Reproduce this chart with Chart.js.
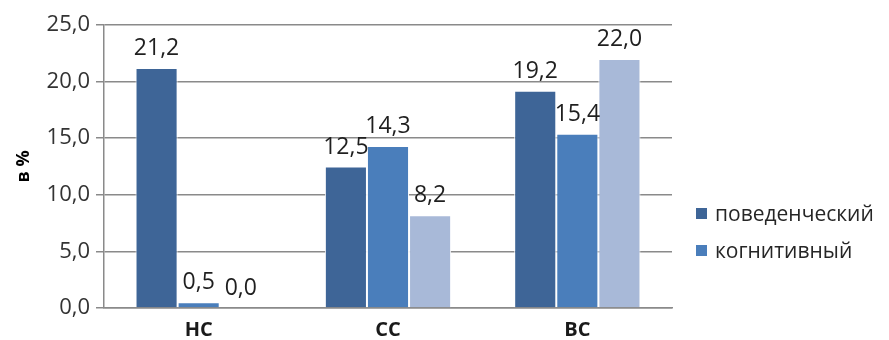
<!DOCTYPE html>
<html>
<head>
<meta charset="utf-8">
<script src="https://cdn.jsdelivr.net/npm/chart.js@4/dist/chart.umd.min.js"></script>
<style>
  html, body { margin: 0; padding: 0; background: #fff; }
  #wrap { position: relative; width: 889px; height: 340px; }
  #legend { position: absolute; left: 696px; top: 198px; font-family: "Open Sans", sans-serif; font-size: 21px; color: #262626; }
  #legend div { height: 37px; line-height: 30px; white-space: nowrap; }
  #legend span.box { display: inline-block; width: 11px; height: 11px; margin-right: 8px; vertical-align: 2px; }
</style>
</head>
<body>
<div id="wrap">
  <canvas id="chart" width="889" height="340"></canvas>
  <div id="legend"></div>
</div>
<script>
const categories = ["НС", "СС", "ВС"];
const seriesNames = ["поведенческий", "когнитивный", ""];
const behavioral = [21.2, 12.5, 19.2];
const cognitive = [0.5, 14.3, 15.4];
const third = [0.0, 8.2, 22.0];
const colors = ["#3E6597", "#4A7EBB", "#A8B9D8"];
const fmt = v => v.toFixed(1).replace(".", ",");

const valueLabels = {
    id: "valueLabels",
    afterDatasetsDraw(chart) {
        const ctx = chart.ctx;
        ctx.save();
        ctx.font = "23px 'Open Sans', sans-serif";
        ctx.fillStyle = "#1f1f1f";
        ctx.textAlign = "center";
        ctx.textBaseline = "bottom";
        chart.data.datasets.forEach((ds, i) => {
            chart.getDatasetMeta(i).data.forEach((bar, j) => {
                ctx.fillText(fmt(ds.data[j]), bar.x, bar.y - 8);
            });
        });
        ctx.restore();
    }
};

const chart = new Chart(document.getElementById("chart"), {
    type: "bar",
    data: {
        labels: categories,
        datasets: [behavioral, cognitive, third].map((d, i) => ({
            label: seriesNames[i],
            data: d,
            backgroundColor: colors[i],
            borderColor: "#ffffff",
            borderWidth: 1,
            categoryPercentage: 0.667,
            barPercentage: 1
        }))
    },
    options: {
        responsive: false,
        animation: false,
        layout: { padding: { left: 13, right: 217, top: 25, bottom: 0 } },
        plugins: { legend: { display: false }, tooltip: { enabled: false } },
        scales: {
            x: {
                grid: { display: false },
                border: { display: true, color: "#8a8a8a", width: 1.5 },
                ticks: { color: "#1a1a1a", font: { family: "Open Sans", size: 20, weight: "bold" }, padding: 2 },
                afterFit: s => { s.height = 32; }
            },
            y: {
                min: 0,
                max: 25,
                ticks: { stepSize: 5, color: "#333333", font: { family: "Open Sans", size: 22 }, padding: 6, callback: v => fmt(v) },
                grid: { color: "#8a8a8a", lineWidth: 1.5, tickLength: 8 },
                border: { display: true, color: "#8a8a8a", width: 1.5 },
                title: { display: true, text: "в %", color: "#000", font: { family: "Open Sans", size: 18, weight: "bold" }, padding: 0 },
                afterFit: s => { s.width = 91; }
            }
        }
    },
    plugins: [valueLabels]
});

const legend = document.getElementById("legend");
chart.data.datasets.slice(0, 2).forEach(ds => {
    const row = document.createElement("div");
    row.innerHTML = '<span class="box" style="background:' + ds.backgroundColor + '"></span>' + ds.label;
    legend.appendChild(row);
});
</script>
</body>
</html>
